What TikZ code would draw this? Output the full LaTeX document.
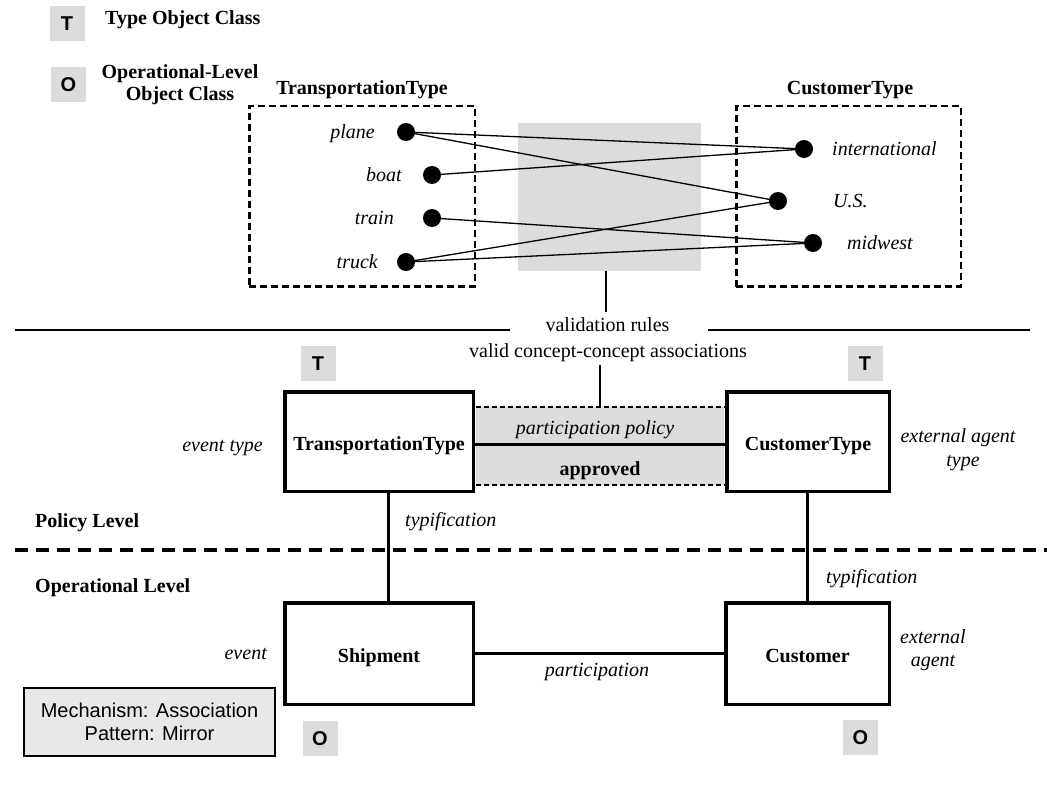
\documentclass[tikz,border=0pt]{standalone}
\usepackage{fontspec}
\setmainfont{Liberation Serif}
\newfontfamily\badgefont{Liberation Sans}
\definecolor{panelgray}{HTML}{DCDCDC}
\definecolor{notegray}{HTML}{E8E8E8}
\begin{document}
\begin{tikzpicture}[x=1pt,y=-1pt,
  txt/.style={inner sep=0pt, font=\fontsize{20}{24}\selectfont},
  lbl/.style={inner sep=0pt, font=\fontsize{20}{24}\selectfont\itshape},
  ttl/.style={inner sep=0pt, font=\fontsize{20}{24}\selectfont\bfseries},
  badge/.style={fill=panelgray, minimum width=35pt, minimum height=35pt, inner sep=0pt,
    font=\badgefont\bfseries\fontsize{20}{22}\selectfont},
  dot/.style={circle, fill=black, minimum size=18pt, inner sep=0pt},
  classbox/.style={draw, line width=3.5pt, inner sep=0pt, text height=19pt, text depth=2pt,
    font=\fontsize{20}{24}\selectfont\bfseries},
  valuebox/.style={draw, line width=2.5pt, dash pattern=on 7pt off 4pt},
  link/.style={line width=1.3pt},
  thick link/.style={line width=3pt}
]
\useasboundingbox (0,0) rectangle (1047,794);

% legend
\node[badge] (legT) at (67,23.5) {T};
\node[ttl, anchor=west] (legTtext) at (105,20) {Type Object Class};
\node[badge] (legO) at (68.5,84.5) {O};
\node[ttl, anchor=base] (legO1) at (180,79) {Operational-Level};
\node[ttl, anchor=base] (legO2) at (180,101) {Object Class};

% value sets of the two type classes
\node[ttl, anchor=base] (ttTitle) at (362,95) {TransportationType};
\node[ttl, anchor=base] (ctTitle) at (850,95) {CustomerType};
\node[valuebox, minimum width=225.5pt, minimum height=180.5pt] (ttSet) at (362,196.5) {};
\node[valuebox, minimum width=224.5pt, minimum height=180.5pt] (ctSet) at (848.5,196.5) {};
\node[fill=panelgray, minimum width=183pt, minimum height=148pt, inner sep=0pt] (rules) at (609.5,197) {};

\node[dot] (plane) at (406,132) {};
\node[dot] (boat) at (432,175) {};
\node[dot] (train) at (432,218) {};
\node[dot] (truck) at (406,262) {};
\node[lbl, anchor=base east] (planeL) at (375,138.5) {plane};
\node[lbl, anchor=base east] (boatL) at (402,181.5) {boat};
\node[lbl, anchor=base east] (trainL) at (394,224.5) {train};
\node[lbl, anchor=base east] (truckL) at (378,268.5) {truck};

\node[dot] (intl) at (804,149) {};
\node[dot] (us) at (778,201) {};
\node[dot] (midwest) at (813,243) {};
\node[lbl, anchor=base west] (intlL) at (832,155.5) {international};
\node[lbl, anchor=base west] (usL) at (833,207.5) {U.S.};
\node[lbl, anchor=base west] (midwestL) at (847,249.5) {midwest};

\draw[link] (plane.center) -- (intl.center);
\draw[link] (plane.center) -- (us.center);
\draw[link] (boat.center) -- (intl.center);
\draw[link] (train.center) -- (midwest.center);
\draw[link] (truck.center) -- (us.center);
\draw[link] (truck.center) -- (midwest.center);

% validation rules
\node[txt, anchor=base] (vr1) at (607.5,332) {validation rules};
\node[txt, anchor=base] (vr2) at (608,357) {valid concept-concept associations};
\draw[link] ([xshift=-3.5pt]rules.south) -- ([xshift=-3.5pt, yshift=-41pt]rules.south);
\coordinate (hlA) at (15,330);
\coordinate (hlB) at (510,330);
\coordinate (hlC) at (708,330);
\coordinate (hlD) at (1030,330);
\draw[line width=1.5pt] (hlA) -- (hlB);
\draw[line width=1.5pt] (hlC) -- (hlD);

% policy level
\node[classbox, minimum width=188.5pt, minimum height=99.5pt] (tt) at (379,441.5) {TransportationType};
\node[classbox, minimum width=162.5pt, minimum height=99.5pt] (ct) at (808,441.5) {CustomerType};
\node[badge] (ttBadge) at (318,363.5) {T};
\node[badge] (ctBadge) at (865,363.5) {T};

\node[fill=panelgray, minimum width=248pt, minimum height=78pt, inner sep=0pt] (band) at (600,446) {};
\draw[line width=1.5pt, dash pattern=on 5pt off 3pt] (band.north west) -- (band.north east);
\draw[line width=1.5pt, dash pattern=on 5pt off 3pt] (band.south west) -- (band.south east);
\draw[thick link] ([yshift=-2.5pt]tt.east) -- ([yshift=-2.5pt]ct.west);
\draw[link] (band.north) -- ([yshift=42pt]band.north);
\node[lbl, anchor=base] (policyL) at (595,434) {participation policy};
\node[ttl, anchor=base] (approvedL) at (600,475) {approved};

\node[lbl, anchor=base east] (evtTypeL) at (263,451) {event type};
\node[lbl, anchor=base] (extTypeL1) at (958,442) {external agent};
\node[lbl, anchor=base] (extTypeL2) at (963,466) {type};

\node[ttl, anchor=base west] (policyLevel) at (35,527) {Policy Level};
\coordinate (sepA) at (15,550);
\coordinate (sepB) at (1047,550);
\draw[line width=4.5pt, dash pattern=on 13pt off 8pt] (sepA) -- (sepB);
\node[ttl, anchor=base west] (opLevel) at (35,592) {Operational Level};

% operational level
\node[classbox, minimum width=188.5pt, minimum height=101.5pt] (ship) at (379,653.5) {Shipment};
\node[classbox, minimum width=163.5pt, minimum height=101.5pt] (cust) at (807.5,653.5) {Customer};
\node[badge] (shipBadge) at (320,738.5) {O};
\node[badge] (custBadge) at (860.5,737.5) {O};

\draw[thick link] ([xshift=9pt]tt.south) -- ([xshift=9pt]ship.north);
\draw[thick link] ([xshift=-1pt]ct.south) -- ([xshift=-0.5pt]cust.north);
\draw[thick link] ([yshift=0.5pt]ship.east) -- ([yshift=0.5pt]cust.west);
\node[lbl, anchor=base west] (typL1) at (405,526) {typification};
\node[lbl, anchor=base west] (typL2) at (826,583) {typification};
\node[lbl, anchor=base] (partL) at (597,676) {participation};
\node[lbl, anchor=base east] (evtL) at (267,659) {event};
\node[lbl, anchor=base] (extL1) at (933,643) {external};
\node[lbl, anchor=base] (extL2) at (933,666) {agent};

\node[draw, line width=2pt, fill=notegray, minimum width=251pt, minimum height=68pt,
  inner sep=0pt, align=center, font=\badgefont\fontsize{20}{23}\selectfont] (note) at (149.5,722)
  {Mechanism: Association\\Pattern: Mirror};
\end{tikzpicture}
\end{document}
